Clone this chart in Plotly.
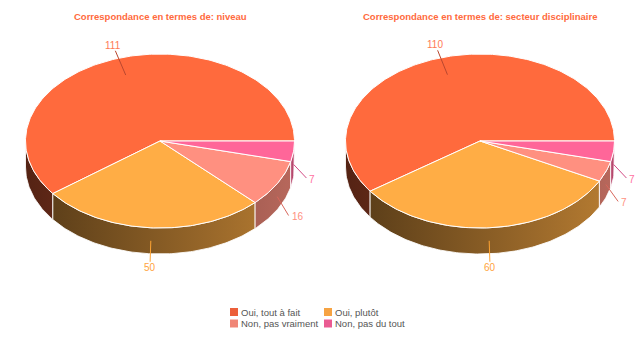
import numpy as np
import plotly.graph_objects as go

# ---------------- data ----------------
categories = ["Oui, tout à fait", "Oui, plutôt", "Non, pas vraiment", "Non, pas du tout"]
niveau_values = [111, 50, 16, 7]
secteur_values = [110, 60, 7, 7]
chart_titles = ["Correspondance en termes de: niveau",
                "Correspondance en termes de: secteur disciplinaire"]

# ---------------- style ----------------
top_colors = ["#FF6A3D", "#FFAD45", "#FF9080", "#FF6699"]
legend_colors = ["#EC5F3A", "#F6A343", "#F08676", "#EA5B92"]
label_colors = ["#FF7A55", "#FFA43C", "#FF9080", "#FF6FA0"]
connector_colors = ["#B9472F", "#FFA433", "#D8675C", "#D24C85"]
title_color = "#FF6A3D"
legend_text_color = "#555555"

W, H = 640, 340
RX, RY, DEPTH = 134.5, 87.0, 26.0
CENTERS = [(160.0, 141.0), (480.0, 141.0)]
FONT = "Liberation Sans, Arial, sans-serif"


def hex_rgb(h):
    h = h.lstrip("#")
    return tuple(int(h[i:i + 2], 16) for i in (0, 2, 4))


def shade(h, f):
    r, g, b = hex_rgb(h)
    return "rgb(%d,%d,%d)" % (round(r * f), round(g * f), round(b * f))


def ell(cx, cy, deg, rx=RX, ry=RY, dy=0.0):
    t = np.radians(deg)
    return cx + rx * np.cos(t), cy - ry * np.sin(t) + dy


fig = go.Figure()
annotations = []

for (cx, cy), values, title in zip(CENTERS, [niveau_values, secteur_values], chart_titles):
    total = float(sum(values))
    angles = np.concatenate([[0.0], np.cumsum(values) / total * 360.0])

    # side walls (front half only)
    for i, col in enumerate(top_colors):
        a, b = max(angles[i], 180.0), min(angles[i + 1], 360.0)
        if b <= a:
            continue
        ts = np.linspace(a, b, max(3, int(b - a) + 2))
        xt, yt = ell(cx, cy, ts)
        xb, yb = ell(cx, cy, ts[::-1], dy=DEPTH)
        xs = np.concatenate([xt, xb, xt[:1]])
        ys = np.concatenate([yt, yb, yt[:1]])
        fig.add_trace(go.Scatter(
            x=xs, y=ys, mode="lines", fill="toself",
            line=dict(color="rgba(255,255,255,0.85)", width=1),
            fillgradient=dict(type="horizontal", start=cx - RX, stop=cx + RX,
                              colorscale=[[0, shade(col, 0.33)], [1, shade(col, 0.72)]]),
            hoverinfo="skip", showlegend=False))

    # top faces
    for i, col in enumerate(top_colors):
        a, b = angles[i], angles[i + 1]
        ts = np.linspace(a, b, max(3, int(b - a) + 2))
        xt, yt = ell(cx, cy, ts)
        xs = np.concatenate([[cx], xt, [cx]])
        ys = np.concatenate([[cy], yt, [cy]])
        fig.add_trace(go.Scatter(
            x=xs, y=ys, mode="lines", fill="toself", fillcolor=col,
            line=dict(color="white", width=1),
            name=categories[i], hoverinfo="skip", showlegend=False))

    # data labels + connectors
    for i, v in enumerate(values):
        mid = (angles[i] + angles[i + 1]) / 2.0
        c, s = np.cos(np.radians(mid)), np.sin(np.radians(mid))
        front = s < 0
        if front:
            ix, iy = ell(cx, cy, mid, dy=DEPTH / 2)
        else:
            ix, iy = ell(cx, cy, mid, rx=RX * 0.8, ry=RY * 0.8)
        ax, ay = ell(cx, cy, mid, rx=RX + 13, ry=RY + 14, dy=DEPTH if front else 0.0)
        if c > 0.5:
            ox, oy = ax, ay - 1
            xanchor, tx = "left", ax + 1
        elif c < -0.5:
            ox, oy = ax, ay - 1
            xanchor, tx = "right", ax - 1
        else:
            d = np.hypot(ix - ax, iy - ay)
            ox, oy = ax + (ix - ax) / d * 6, ay + (iy - ay) / d * 6
            xanchor, tx = "center", ax
        fig.add_trace(go.Scatter(
            x=[ix, ox], y=[iy, oy], mode="lines",
            line=dict(color=connector_colors[i], width=1),
            hoverinfo="skip", showlegend=False))
        annotations.append(dict(
            x=tx, y=ay, xref="x", yref="y", text=str(v), showarrow=False,
            xanchor=xanchor, yanchor="middle",
            font=dict(family=FONT, size=10, color=label_colors[i])))

    annotations.append(dict(
        x=cx, y=16, xref="x", yref="y", text="<b>%s</b>" % title, showarrow=False,
        xanchor="center", yanchor="middle",
        font=dict(family=FONT, size=9.5, color=title_color)))

# ---------------- legend (two columns) ----------------
leg_swatch_x = [234.0, 328.0]
leg_text_x = [238.5, 332.5]
leg_row_y = [312.0, 323.5]
for i, name in enumerate(categories):
    col, row = i % 2, i // 2
    fig.add_trace(go.Scatter(
        x=[leg_swatch_x[col]], y=[leg_row_y[row]], mode="markers",
        marker=dict(symbol="square", size=8, color=legend_colors[i]),
        hoverinfo="skip", showlegend=False))
    annotations.append(dict(
        x=leg_text_x[col], y=leg_row_y[row], xref="x", yref="y", text=name,
        showarrow=False, xanchor="left", yanchor="middle",
        font=dict(family=FONT, size=9.5, color=legend_text_color)))

fig.update_layout(
    width=W, height=H, margin=dict(l=0, r=0, t=0, b=0),
    paper_bgcolor="white", plot_bgcolor="white",
    xaxis=dict(range=[0, W], visible=False, fixedrange=True),
    yaxis=dict(range=[H, 0], visible=False, fixedrange=True),
    showlegend=False, annotations=annotations)

fig.write_html("out.html")
